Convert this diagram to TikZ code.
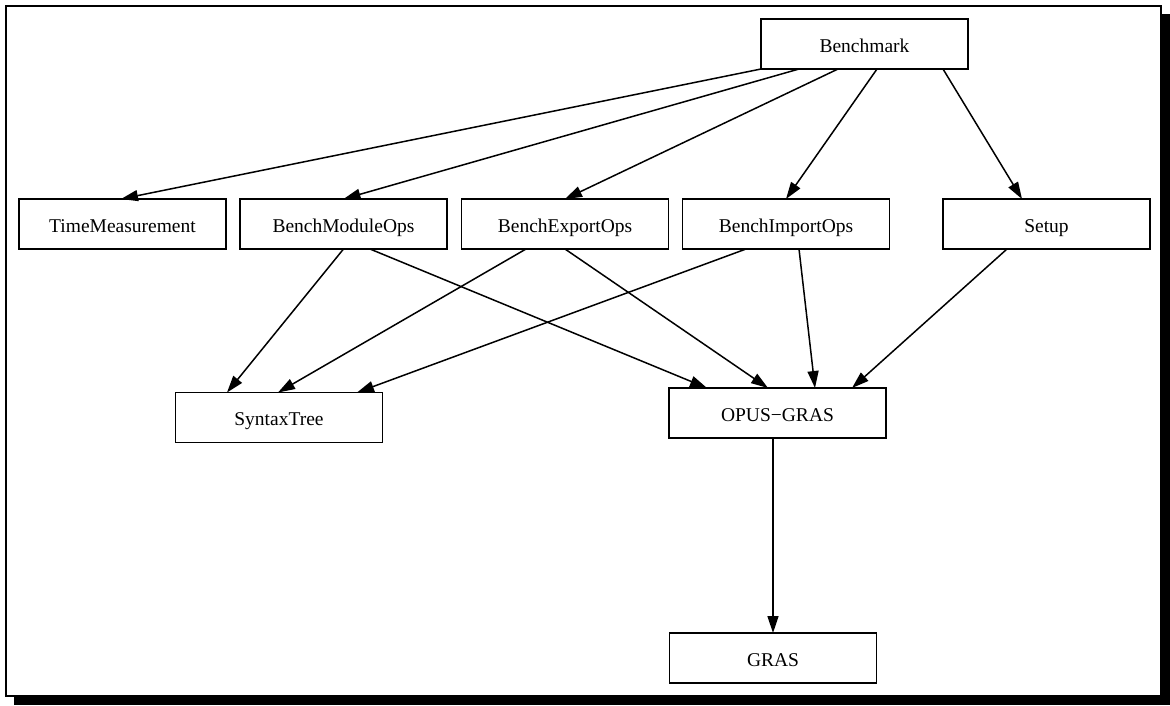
\documentclass[tikz,border=0pt]{standalone}
\usepackage{fontspec}
\setmainfont{Liberation Serif}
\usetikzlibrary{arrows.meta}

\begin{document}
\begin{tikzpicture}[
    x=1pt,
    y=-1pt,
    module/.style={
        rectangle,
        draw,
        fill=white,
        line width=1.5pt,
        minimum width=207pt,
        minimum height=50pt,
        text height=16pt,
        text depth=0pt,
        inner sep=0pt,
        outer sep=0pt,
        font=\fontsize{19.5}{23}\selectfont
    },
    dep/.style={
        line width=1.5pt,
        -{Triangle[length=17pt,width=11pt]}
    }
]
\useasboundingbox (0,0) rectangle (1170,705);

% Frame with its shadow
\fill (14,14) rectangle (1170,705);
\draw[line width=2.5pt, fill=white] (6,6) rectangle (1161,696);

% Top module
\node[module] (bench) at (864.5,44) {Benchmark};

% Second row
\node[module] (time)   at (122.5,224) {TimeMeasurement};
\node[module] (module) at (343.5,224) {BenchModuleOps};
\node[module] (export) at (565,224)   {BenchExportOps};
\node[module] (import) at (786,224)   {BenchImportOps};
\node[module] (setup)  at (1046.5,224) {Setup};

% Third row
\node[module] (syntax) at (279,417.5) {SyntaxTree};
\node[module, minimum width=217pt] (opus) at (777.5,413) {OPUS−GRAS};

% Bottom module
\node[module] (gras) at (773,658) {GRAS};

% Edges out of Benchmark
\draw[dep] (bench.south west) -- ([xshift=-1.5pt]time.north);
\draw[dep] ([xshift=-65.5pt]bench.south) -- (module.north);
\draw[dep] ([xshift=-26.5pt]bench.south) -- (export.north);
\draw[dep] ([xshift=12.5pt]bench.south) -- (import.north);
\draw[dep] ([xshift=78.5pt]bench.south) -- ([xshift=-24.5pt]setup.north);

% Edges into SyntaxTree
\draw[dep] (module.south) -- ([xshift=-52pt]syntax.north);
\draw[dep] ([xshift=-39pt]export.south) -- ([xshift=-1pt]syntax.north);
\draw[dep] ([xshift=-40pt]import.south) -- ([xshift=78pt]syntax.north);

% Edges into OPUS-GRAS
\draw[dep] ([xshift=26.5pt]module.south) -- ([xshift=-70.5pt]opus.north);
\draw[dep] (export.south) -- ([xshift=-9.5pt]opus.north);
\draw[dep] ([xshift=13pt]import.south) -- ([xshift=37.5pt]opus.north);
\draw[dep] ([xshift=-39.5pt]setup.south) -- ([xshift=74.5pt]opus.north);

% OPUS-GRAS to GRAS
\draw[dep] ([xshift=-4.5pt]opus.south) -- (gras.north);
\end{tikzpicture}
\end{document}
